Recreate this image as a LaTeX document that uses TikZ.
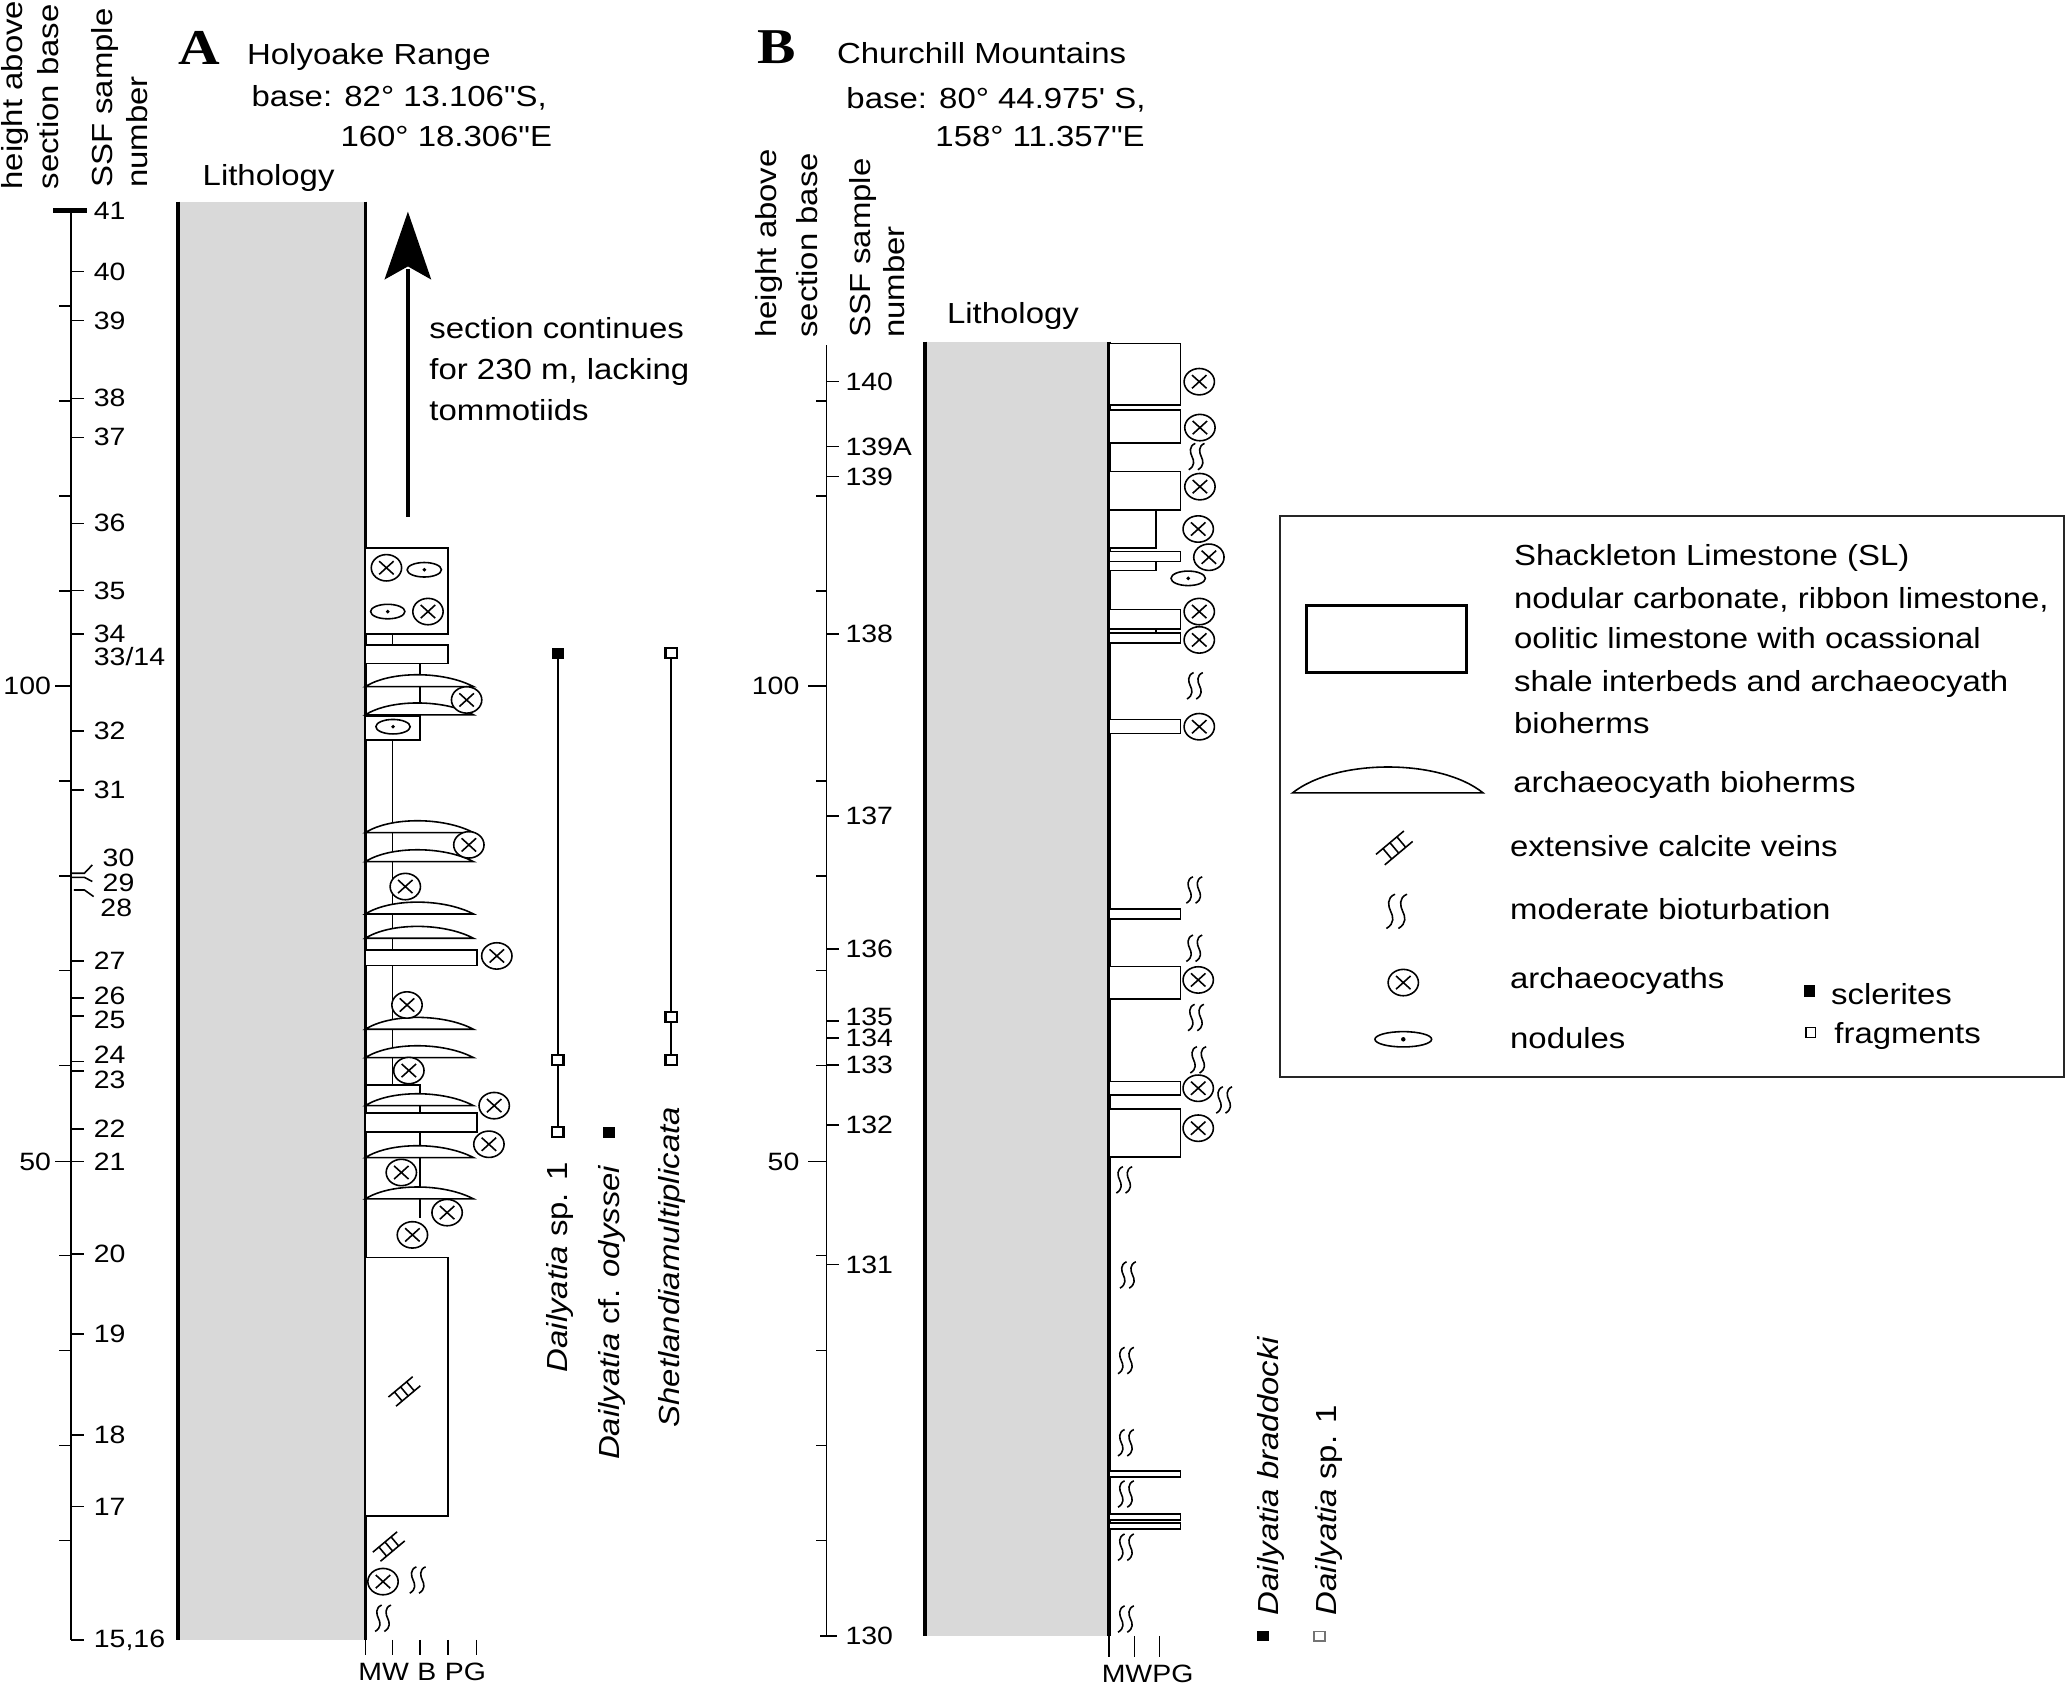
\documentclass[tikz,border=0pt]{standalone}
\usepackage{fontspec}
\setmainfont{Liberation Sans}[FakeStretch=1.135, Ligatures=TeXOff]
\newfontfamily\panelfont{Liberation Serif}[FakeStretch=1.15]
\colorlet{lithgray}{black!15}
\newcommand\txtsize{\fontsize{11}{13}\selectfont}
\newcommand\lblsize{\fontsize{9.5}{11}\selectfont}
\tikzset{
  txt/.style={font=\txtsize, inner sep=0pt, anchor=base west},
  lbl/.style={font=\lblsize, inner sep=0pt, anchor=west},
  lble/.style={font=\lblsize, inner sep=0pt, anchor=east},
  vtxt/.style={font=\txtsize, inner sep=0pt, anchor=base west, rotate=90},
  spec/.style={font=\txtsize, inner sep=0pt, rotate=90},
  panel/.style={font=\panelfont\bfseries\fontsize{19}{19}\selectfont, inner sep=0pt, anchor=base west},
  thinln/.style={line width=0.6pt},
  bedbox/.style={draw, line width=0.6pt, fill=white},
  lithedge/.style={line width=1.3pt},
  rangeln/.style={line width=0.8pt},
  arch/.pic={\draw[line width=0.6pt, fill=white] (0,0) ellipse [x radius=11.5, y radius=10];
             \draw[line width=0.6pt] (-5.5,-5) -- (5.5,5) (-5.5,5) -- (5.5,-5);},
  nod/.pic={\draw[line width=0.6pt, fill=white] (0,0) ellipse [x radius=13, y radius=5.5];
            \fill (0,0) circle [radius=1.5];},
  bignod/.pic={\draw[line width=0.6pt, fill=white] (0,0) ellipse [x radius=21.5, y radius=5.8];
            \fill (0,0) circle [radius=1.7];},
  bio/.pic={\foreach \d in {-3.5,3.5}{\draw[line width=0.6pt] (\d+2.5,-10) .. controls (\d-2.5,-8) and (\d-1.5,-3) .. (\d,0) .. controls (\d+1.5,3) and (\d+2.5,7) .. (\d-2.5,10);}},
  vein/.pic={\draw[line width=0.6pt, rotate=40] (-12,-4.5) -- (12,-4.5) (-12,4.5) -- (12,4.5) (-6,-4.5) -- (-6,4.5) (0,-4.5) -- (0,4.5) (6,-4.5) -- (6,4.5);},
  fsq/.pic={\fill (-4.7,-4.2) rectangle (4.7,4.2);},
  osq/.pic={\draw[line width=0.9pt, fill=white] (-4.3,-3.8) rectangle (4.3,3.8);},
}
\begin{document}
\begin{tikzpicture}[x=0.5pt,y=-0.5pt]
\useasboundingbox (0,0) rectangle (1568,1279);

% ================= PANEL A =================
\node[panel] (labA) at (135,49) {A};
\node[txt] (hrA) at (187,48.8) {Holyoake Range};
\node[txt] (baA) at (190.4,80.9) {base: 82° 13.106"S,};
\node[txt] (lonA) at (257.8,111.2) {160° 18.306"E};
\node[txt] (litA) at (153.3,140.3) {Lithology};
\node[vtxt] (hA1) at (17,144) {height above};
\node[vtxt] (hA2) at (44,144) {section base};
\node[vtxt] (sA1) at (85,142.8) {SSF sample};
\node[vtxt] (sA2) at (112,142.8) {number};

% axis A
\draw[thinln] (53.9,159.7) -- (53.9,1243.4);
\draw[line width=1.9pt] (40.4,159.7) -- (66,159.7);
\foreach \y in {232,304,376,448,592,664,736,808,952,1024,1096,1168}
  \draw[thinln] (45,\y) -- (53.9,\y);
\draw[thinln] (42,520) -- (53.9,520);
\draw[thinln] (42,880.7) -- (53.9,880.7);
\node[lble] (hA100) at (39,520) {100};
\node[lble] (hA50) at (39,880.7) {50};
\foreach \y/\t [count=\i] in {206/40,243.1/39,302/38,331.6/37,396.8/36,447.8/35,480.9/34,554.2/32,598.9/31,728.6/27,856.2/22,880.7/21,951/20,1011.6/19,1088/18,1142.3/17}{
  \draw[thinln] (53.9,\y) -- (64,\y);
  \node[lbl] (la\i) at (70.8,\y) {\t};
}
\node[lbl] (la41) at (70.8,159.7) {41};
\draw[thinln] (53.9,756.9) -- (64,756.9);
\draw[thinln] (53.9,770.3) -- (64,770.3);
\node[lbl] (la26) at (70.8,754.8) {26};
\node[lbl] (la25) at (70.8,773.2) {25};
\draw[thinln] (53.9,804.9) -- (64,804.9);
\draw[thinln] (53.9,812) -- (64,812);
\node[lbl] (la24) at (70.8,799.8) {24};
\node[lbl] (la23) at (70.8,818.8) {23};
\node[lbl] (la33) at (70.8,497.9) {33/14};
\draw[thinln] (53.9,1243.4) -- (64,1243.4);
\node[lbl] (la15) at (70.8,1243.4) {15,16};
\draw[thinln] (53.9,662.1) -- (64,662.1) -- (70,655.8);
\draw[thinln] (53.9,665.2) -- (64,665.2) -- (70,668.4);
\draw[thinln] (56,674.8) -- (64,674.8) -- (71,679.8);
\node[lbl] (la30) at (77.5,650.8) {30};
\node[lbl] (la29) at (77.5,669.7) {29};
\node[lbl] (la28) at (75.8,688.7) {28};

% lithology A
\fill[lithgray] (134.8,152.9) rectangle (277,1243.4);
\draw[lithedge] (134.8,152.9) -- (134.8,1243.4);
\draw[lithedge] (277,152.9) -- (277,1243.4);
\foreach \x in {277,297.5,318.4,339.7,361.2}
  \draw[thinln] (\x,1243.4) -- (\x,1254.7);
\node[font=\lblsize, inner sep=0pt, anchor=base west] (gsA1) at (271.3,1274) {MW};
\node[font=\lblsize, inner sep=0pt, anchor=base west] (gsA2) at (316,1274) {B};
\node[font=\lblsize, inner sep=0pt, anchor=base west] (gsA3) at (337,1274) {PG};

% profile lines
\draw[thinln] (297.5,480.6) -- (297.5,489);
\draw[thinln] (318.4,503) -- (318.4,543);
\draw[thinln] (297.5,561) -- (297.5,822.6);
\draw[thinln] (277,822.6) -- (318.4,822.6) -- (318.4,923.7);

% beds A
\draw[bedbox] (277,415.5) rectangle (339.7,480.6);
\draw[bedbox] (277,489) rectangle (339.7,503);
\draw[bedbox] (277,543) rectangle (318.4,561);
\draw[bedbox] (277,720.2) rectangle (361.6,732.2);
\draw[bedbox] (277,844) rectangle (361.6,858.5);
\draw[bedbox] (277,953.3) rectangle (339.7,1149.4);
\foreach \b in {520.6,542,631.3,653.3,693,711.4,780.4,801.9,838.3,877.7,909}
  \draw[bedbox] (277,\b) .. controls (296,\b-12) and (336,\b-12) .. (359,\b) -- cycle;

% symbols A
\foreach \p in {(293,430.5),(324.5,463.7),(353.8,530.7),(355.5,640.6),(307.3,672.2),(376.7,724.8),(308.6,762),(310,811.7),(374.7,838.3),(370.7,867.6),(304.3,889),(339,919.4),(312.7,936.3),(290.4,1199.2)}
  \pic at \p {arch};
\foreach \p in {(321.7,432),(294,463.7),(298,551)}
  \pic at \p {nod};
\pic at (306.6,1055) {vein};
\pic at (294.8,1172.6) {vein};
\pic at (316.7,1198) {bio};
\pic at (290.4,1227) {bio};

% arrow
\draw[line width=1.7pt] (309.3,391.7) -- (309.3,204);
\fill (309.3,160.5) -- (327,212) -- (309.3,202) -- (291.5,212) -- cycle;
\node[txt] (sc1) at (325.2,257) {section continues};
\node[txt] (sc2) at (325.2,288) {for 230 m, lacking};
\node[txt] (sc3) at (325.2,319) {tommotiids};

% ranges A
\draw[rangeln] (422.9,495.3) -- (422.9,858.5);
\pic at (422.9,495.3) {fsq};
\pic at (422.9,803.6) {osq};
\pic at (422.9,858.5) {osq};
\pic at (461.6,858.5) {fsq};
\draw[rangeln] (508.8,495) -- (508.8,803.6);
\pic at (508.8,495) {osq};
\pic at (508.8,771.3) {osq};
\pic at (508.8,803.6) {osq};
\node[spec, anchor=east] (spA1) at (424.6,881) {\textit{Dailyatia} sp. 1};
\node[spec, anchor=east] (spA2) at (464,883) {\textit{Dailyatia} cf. \textit{odyssei}};
\node[spec, anchor=east] (spA3) at (509.7,839) {\textit{Shetlandiamultiplicata}};

% ================= PANEL B =================
\node[panel] (labB) at (573.7,48) {B};
\node[txt] (hrB) at (634.3,48) {Churchill Mountains};
\node[txt] (baB) at (641.4,82.1) {base: 80° 44.975' S,};
\node[txt] (lonB) at (708.9,111.2) {158° 11.357"E};
\node[txt] (litB) at (717.7,245.1) {Lithology};
\node[vtxt] (hB1) at (589,256.5) {height above};
\node[vtxt] (hB2) at (620,256.5) {section base};
\node[vtxt] (sB1) at (660,256.5) {SSF sample};
\node[vtxt] (sB2) at (686,256.5) {number};

% axis B
\draw[thinln] (626.8,261.6) -- (626.8,1240.3);
\foreach \y in {304,376,448,592,664,736,808,952,1024,1096,1168}
  \draw[thinln] (618.7,\y) -- (626.8,\y);
\draw[thinln] (612.8,520) -- (626.8,520);
\draw[thinln] (612.8,880.7) -- (626.8,880.7);
\draw[thinln] (622,1240.3) -- (635,1240.3);
\node[lble] (hB100) at (606.5,520) {100};
\node[lble] (hB50) at (606.5,880.7) {50};
\foreach \y/\t [count=\i] in {289.4/140,338.6/139A,361.4/139,480.7/138,618.7/137,719.7/136,787.2/134,807.4/133,853/132,958.8/131}{
  \draw[thinln] (626.8,\y) -- (636.4,\y);
  \node[lbl] (lb\i) at (640.7,\y) {\t};
}
\draw[thinln] (626.8,774.1) -- (636.4,774.1);
\node[lbl] (lb135) at (640.7,770.8) {135};
\node[lbl] (lb130) at (640.7,1240.3) {130};

% lithology B
\fill[lithgray] (701.3,259) rectangle (841,1240.3);
\draw[lithedge] (701.3,259) -- (701.3,1240.3);
\draw[lithedge] (841,259) -- (841,1240.3);
\foreach \x in {841,860.2,879.2}
  \draw[thinln] (\x,1240.3) -- (\x,1256);
\node[font=\lblsize, inner sep=0pt, anchor=base west] (gsB) at (835,1276) {MWPG};

% beds B
\foreach \t/\b in {260.3/307,310.8/336.1,357.6/386.7,418.2/425.8,462/477.1,480.1/487.7,545.4/556,689.4/697,732.9/757.6,820.1/830.2,841/877.4,1115.4/1119.8,1147.9/1152.3,1154.9/1159.3}
  \draw[bedbox] (841,\t) rectangle (895,\b);
\foreach \t/\b in {386.7/415.7,425.8/432.7,477.1/480.1}
  \draw[bedbox] (841,\t) rectangle (876.5,\b);

% symbols B
\foreach \p in {(909.3,289.4),(909.8,324.2),(909.8,369),(908.5,401.1),(916.6,422.5),(909.3,463.7),(909.3,485.2),(909.3,551),(908.5,743),(908.5,825.1),(908.5,855.4)}
  \pic at \p {arch};
\pic at (900.9,438.5) {nod};
\foreach \p in {(907.3,346.2),(906,520),(905.5,674.8),(905.5,719),(906.8,771.5),(908.5,803.6),(928.2,834),(852.4,894.6),(855.2,966.7),(853.7,1031.6),(853.7,1093.9),(853.7,1132.8),(853.7,1173.1),(853.7,1227.6)}
  \pic at \p {bio};

% species B
\fill (952.9,1236.7) rectangle (962.3,1244.4);
\draw[black!55, line width=0.5pt] (996.2,1236.9) rectangle (1004.6,1244.3);
\node[spec, anchor=west] (spB1) at (963.5,1225) {\textit{Dailyatia braddocki}};
\node[spec, anchor=west] (spB2) at (1007.5,1225) {\textit{Dailyatia} sp. 1};

% ================= LEGEND =================
\draw[line width=0.7pt, draw=black!85] (970.5,391) rectangle (1565,816.7);
\draw[line width=1.2pt] (990.6,459.3) rectangle (1112.2,510);
\node[txt] (lg1) at (1147.6,429) {Shackleton Limestone (SL)};
\node[txt] (lg2) at (1147.6,461) {nodular carbonate, ribbon limestone,};
\node[txt] (lg3) at (1147.6,492) {oolitic limestone with ocassional};
\node[txt] (lg4) at (1147.6,524) {shale interbeds and archaeocyath};
\node[txt] (lg5) at (1147.6,556) {bioherms};
\draw[thinln] (980,601.2) .. controls (1013,575) and (1092,575) .. (1124.5,601.2) -- cycle;
\node[txt, anchor=west] (lg6) at (1147,594.9) {archaeocyath bioherms};
\pic[scale=1.15] at (1057.2,642.9) {vein};
\node[txt, anchor=west] (lg7) at (1144.6,641.5) {extensive calcite veins};
\pic[scale=1.3] at (1059,691) {bio};
\node[txt, anchor=west] (lg8) at (1144.6,689.6) {moderate bioturbation};
\pic at (1064,745) {arch};
\node[txt, anchor=west] (lg9) at (1144.6,743.6) {archaeocyaths};
\pic at (1064,788) {bignod};
\node[txt, anchor=west] (lg10) at (1144.6,787.3) {nodules};
\fill (1368,747.2) rectangle (1376,756);
\node[txt, anchor=west] (lg11) at (1388,753.7) {sclerites};
\draw[line width=0.6pt] (1369.2,779) rectangle (1376.4,786.6);
\node[txt, anchor=west] (lg12) at (1390.5,785.8) {fragments};
\end{tikzpicture}
\end{document}
